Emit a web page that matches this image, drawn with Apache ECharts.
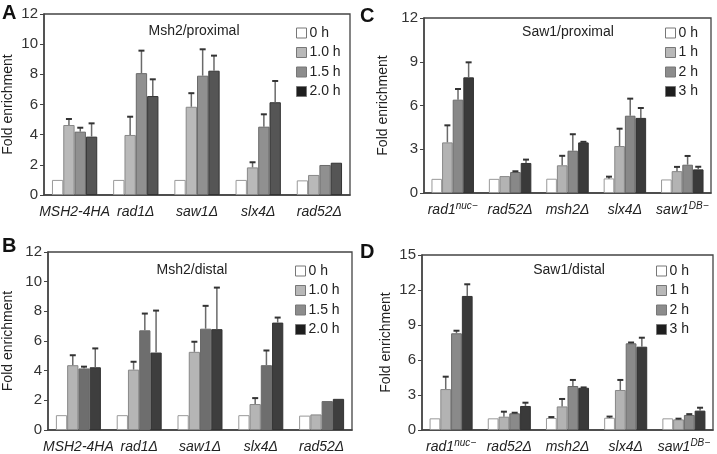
<!DOCTYPE html>
<html><head><meta charset="utf-8">
<script src="https://cdn.jsdelivr.net/npm/echarts@6/dist/echarts.min.js"></script>
<style>html,body{margin:0;padding:0;background:#fff}#c{width:717px;height:454px}</style>
</head><body><div id="c"></div>
<script>
// ---- data ----
const catsAB = ['MSH2-4HA', 'rad1Δ', 'saw1Δ', 'slx4Δ', 'rad52Δ'];
const catsCD = ['rad1|nuc−', 'rad52Δ', 'msh2Δ', 'slx4Δ', 'saw1|DB−'];
const timesAB = ['0 h', '1.0 h', '1.5 h', '2.0 h'];
const timesCD = ['0 h', '1 h', '2 h', '3 h'];

const meansA = [
  [1.0, 1.0, 1.0, 1.0, 0.97],
  [4.64, 3.98, 5.85, 1.83, 1.33],
  [4.2, 8.08, 7.91, 4.53, 1.99],
  [3.87, 6.56, 8.24, 6.15, 2.14]
];
const errA = [
  [0, 0, 0, 0, 0],
  [0.4, 1.21, 0.9, 0.34, 0],
  [0.26, 1.49, 1.75, 0.82, 0],
  [0.88, 1.11, 1.0, 1.41, 0]
];
const meansB = [
  [1.0, 1.0, 1.0, 1.0, 0.97],
  [4.37, 4.07, 5.27, 1.75, 1.05],
  [4.15, 6.72, 6.83, 4.37, 1.95],
  [4.23, 5.22, 6.8, 7.24, 2.1]
];
const errB = [
  [0, 0, 0, 0, 0],
  [0.67, 0.53, 0.68, 0.4, 0],
  [0.12, 1.13, 1.54, 0.99, 0],
  [1.27, 2.83, 2.8, 0.34, 0]
];
const meansC = [
  [0.97, 0.97, 0.98, 1.0, 0.93],
  [3.47, 1.16, 1.9, 3.22, 1.5],
  [6.4, 1.44, 2.9, 5.3, 1.94],
  [7.93, 2.06, 3.47, 5.15, 1.62]
];
const errC = [
  [0, 0, 0, 0.12, 0],
  [1.17, 0, 0.65, 1.19, 0.29],
  [0.73, 0.05, 1.13, 1.17, 0.6],
  [1.03, 0.23, 0.04, 0.68, 0.18]
];
const meansD = [
  [1.0, 1.0, 1.03, 1.05, 1.0],
  [3.51, 1.14, 2.02, 3.43, 0.91],
  [8.29, 1.43, 3.77, 7.43, 1.29],
  [11.49, 2.06, 3.62, 7.14, 1.66]
];
const errD = [
  [0, 0, 0.08, 0.1, 0],
  [1.06, 0.43, 0.64, 0.86, 0.06],
  [0.22, 0.05, 0.52, 0.07, 0.07],
  [1.0, 0.28, 0.03, 0.77, 0.25]
];
const yMax = [12, 12, 12, 15];
const yStep = [2, 2, 3, 3];

// ---- styling / layout ----
const FONT = 'Liberation Sans, Arial, sans-serif';
const panels = [
  {letter: 'A', title: 'Msh2/proximal', cats: catsAB, times: timesAB, means: meansA, err: errA,
   grid: {left: 44, top: 14, width: 306, height: 181}, titleX: 194, titleY: 24, legX: 291, legY: 21, nameGap: 29, letterX: 2, letterY: 3,
   colors: ['#ffffff', '#b9b9b9', '#909090', '#555555']},
  {letter: 'B', title: 'Msh2/distal', cats: catsAB, times: timesAB, means: meansB, err: errB,
   grid: {left: 48, top: 252, width: 304, height: 178}, titleX: 192, titleY: 263, legX: 290, legY: 259, nameGap: 33, letterX: 2, letterY: 236,
   colors: ['#ffffff', '#b5b5b5', '#6e6e6e', '#3e3e3e']},
  {letter: 'C', title: 'Saw1/proximal', cats: catsCD, times: timesCD, means: meansC, err: errC,
   grid: {left: 424, top: 18, width: 287, height: 175}, titleX: 568, titleY: 25, legX: 660, legY: 21, nameGap: 34, letterX: 360, letterY: 6,
   colors: ['#ffffff', '#b3b3b3', '#888888', '#3a3a3a']},
  {letter: 'D', title: 'Saw1/distal', cats: catsCD, times: timesCD, means: meansD, err: errD,
   grid: {left: 422, top: 255, width: 291, height: 175}, titleX: 569, titleY: 263, legX: 651, legY: 259, nameGap: 29, letterX: 360, letterY: 242,
   colors: ['#ffffff', '#b3b3b3', '#8a8a8a', '#3a3a3a']}
];
const borders = ['#999999', '#888888', '#6a6a6a', '#333333'];
const legendColors = ['#ffffff', '#b8b8b8', '#8c8c8c', '#1e1e1e'];

const BAR_CAT_GAP = 0.26;

function catFormatter(v) {
  const parts = v.split('|');
  if (parts.length === 2) return '{i|' + parts[0] + '}{sup|' + parts[1] + '}';
  return '{i|' + v + '}';
}

const option = {
  animation: false,
  textStyle: {fontFamily: FONT},
  title: [], grid: [], xAxis: [], yAxis: [], legend: [], series: []
};

panels.forEach((p, k) => {
  option.title.push({text: p.letter, left: p.letterX, top: p.letterY, padding: 0,
    textStyle: {fontSize: 20, fontWeight: 'bold', color: '#111', fontFamily: FONT}});
  option.title.push({text: p.title, left: p.titleX, top: p.titleY, textAlign: 'center', padding: 0,
    textStyle: {fontSize: 14, fontWeight: 'normal', color: '#222', fontFamily: FONT}});
  option.grid.push(Object.assign({show: true, borderColor: '#444', borderWidth: 1.3, backgroundColor: 'transparent'}, p.grid));
  option.xAxis.push({type: 'category', gridIndex: k, data: p.cats,
    axisLine: {lineStyle: {color: '#444', width: 1.5}}, axisTick: {show: false},
    axisLabel: {margin: 8, interval: 0, formatter: catFormatter,
      rich: {i: {fontSize: 14, fontStyle: 'italic', color: '#222', fontFamily: FONT, lineHeight: 18},
             sup: {fontSize: 10, fontStyle: 'italic', color: '#222', fontFamily: FONT, verticalAlign: 'top', lineHeight: 10}}}});
  option.yAxis.push({type: 'value', gridIndex: k, min: 0, max: yMax[k], interval: yStep[k],
    name: 'Fold enrichment', nameLocation: 'middle', nameGap: p.nameGap,
    nameTextStyle: {fontSize: 14, color: '#222', fontFamily: FONT},
    axisLine: {show: true, lineStyle: {color: '#444', width: 1.5}},
    axisTick: {show: true, length: 4, lineStyle: {color: '#444'}},
    splitLine: {show: false},
    axisLabel: {fontSize: 15, color: '#333', margin: 6}});
  option.legend.push({orient: 'vertical', left: p.legX, top: p.legY, itemWidth: 10, itemHeight: 10, itemGap: 5.5,
    selectedMode: false, textStyle: {fontSize: 14, color: '#222', fontFamily: FONT, padding: [0, 0, 0, -2]},
    data: p.times.map((t, i) => ({name: t, icon: 'rect',
      itemStyle: {color: legendColors[i], borderColor: '#777', borderWidth: 1}}))});
  p.times.forEach((t, i) => {
    option.series.push({type: 'bar', name: t, xAxisIndex: k, yAxisIndex: k, data: p.means[i],
      barGap: '0%', barCategoryGap: (BAR_CAT_GAP * 100) + '%',
      itemStyle: {color: p.colors[i], borderColor: borders[i], borderWidth: 1}});
  });
  const ed = [];
  p.err.forEach((row, i) => row.forEach((e, j) => { if (e > 0) ed.push([j, i, p.means[i][j], e]); }));
  option.series.push({type: 'custom', xAxisIndex: k, yAxisIndex: k, data: ed, z: 5,
    encode: {x: 0, y: 2},
    renderItem: function (params, api) {
      const cat = api.value(0), idx = api.value(1), top = api.value(2), e = api.value(3);
      const base = api.coord([cat, top]);
      const hi = api.coord([cat, top + e]);
      const bw = api.size([1, 0])[0];
      const group = bw * (1 - BAR_CAT_GAP);
      const barW = group / 4;
      const x = base[0] - group / 2 + barW * (idx + 0.5);
      const st = {stroke: idx === 0 ? '#333' : '#6a6a6a', lineWidth: 1.5};
      return {type: 'group', children: [
        {type: 'line', shape: {x1: x, y1: base[1], x2: x, y2: hi[1]}, style: st},
        {type: 'line', shape: {x1: x - 3, y1: hi[1], x2: x + 3, y2: hi[1]}, style: {stroke: '#333', lineWidth: 2}}
      ]};
    }});
});

const chart = echarts.init(document.getElementById('c'), null, {renderer: 'canvas'});
chart.setOption(option);
</script>
</body></html>
